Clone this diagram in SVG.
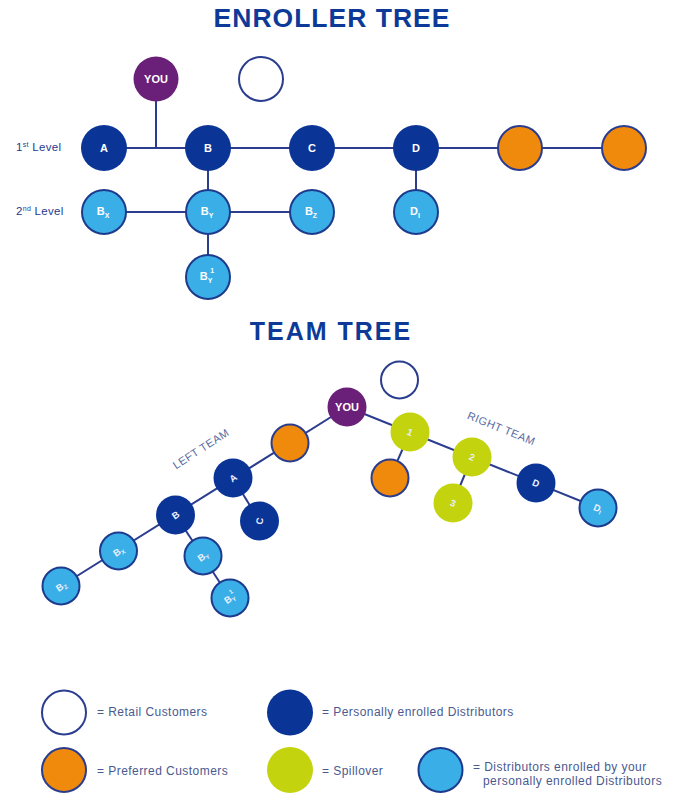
<svg xmlns="http://www.w3.org/2000/svg" width="678" height="794" viewBox="0 0 678 794">
<style>
.title{font-family:"Liberation Sans",Arial,sans-serif;font-weight:bold;fill:#0d3a98;text-anchor:middle}
.lbl{font-family:"Liberation Sans",Arial,sans-serif;font-weight:bold;fill:#ffffff;text-anchor:middle;font-size:11px}
.tl{font-family:"Liberation Sans",Arial,sans-serif;font-weight:bold;fill:#e8f0ff;text-anchor:middle;font-size:9.5px}
.lvl{font-family:"Liberation Sans",Arial,sans-serif;fill:#1f3a8f;font-size:11.5px;letter-spacing:0.3px}
.leg{font-family:"Liberation Sans",Arial,sans-serif;fill:#4a5a8f;font-size:12px;letter-spacing:0.45px}
.team{font-family:"Liberation Sans",Arial,sans-serif;fill:#5a6aa0;font-size:11px;text-anchor:middle;letter-spacing:0.5px}
.you{fill:#6a1f78}
.ret{fill:#ffffff;stroke:#2b3d8f;stroke-width:2}
.pc{fill:#f08a0c;stroke:#2b3d8f;stroke-width:2}
.pd{fill:#0a3597}
.sp{fill:#c3d30e}
.ed{fill:#3aaee6;stroke:#1d3a8c;stroke-width:2}
.ln{stroke:#2b3d8f;stroke-width:2;fill:none}
</style>

<text class="title" x="332" y="27" font-size="26.5" letter-spacing="1">ENROLLER TREE</text>

<g id="enroller-connectors">
<line class="ln" x1="104" y1="148" x2="624" y2="148"/>
<line class="ln" x1="156" y1="100" x2="156" y2="148"/>
<line class="ln" x1="208" y1="148" x2="208" y2="277"/>
<line class="ln" x1="104" y1="212" x2="312" y2="212"/>
<line class="ln" x1="416" y1="148" x2="416" y2="212"/>
</g>

<text class="lvl" x="16" y="151">1<tspan font-size="7" dy="-4">st</tspan><tspan dy="4"> Level</tspan></text>
<text class="lvl" x="16" y="215">2<tspan font-size="7" dy="-4">nd</tspan><tspan dy="4"> Level</tspan></text>

<g id="e-you"><circle class="you" cx="156" cy="79" r="22.5"/><text class="lbl" x="156" y="83">YOU</text></g>
<g id="e-retail"><circle class="ret" cx="261" cy="79" r="22"/></g>
<g id="e-a"><circle class="pd" cx="104" cy="148" r="23"/><text class="lbl" x="104" y="152">A</text></g>
<g id="e-b"><circle class="pd" cx="208" cy="148" r="23"/><text class="lbl" x="208" y="152">B</text></g>
<g id="e-c"><circle class="pd" cx="312" cy="148" r="23"/><text class="lbl" x="312" y="152">C</text></g>
<g id="e-d"><circle class="pd" cx="416" cy="148" r="23"/><text class="lbl" x="416" y="152">D</text></g>
<g id="e-pc1"><circle class="pc" cx="520" cy="148" r="22"/></g>
<g id="e-pc2"><circle class="pc" cx="624" cy="148" r="22"/></g>
<g id="e-bx"><circle class="ed" cx="104" cy="212" r="22"/><text class="lbl" x="103" y="215">B<tspan font-size="7" dy="3">X</tspan></text></g>
<g id="e-by"><circle class="ed" cx="208" cy="212" r="22"/><text class="lbl" x="207" y="215">B<tspan font-size="7" dy="3">Y</tspan></text></g>
<g id="e-bz"><circle class="ed" cx="312" cy="212" r="22"/><text class="lbl" x="311" y="215">B<tspan font-size="7" dy="3">Z</tspan></text></g>
<g id="e-d1"><circle class="ed" cx="416" cy="212" r="22"/><text class="lbl" x="415" y="215">D<tspan font-size="7" dy="3">I</tspan></text></g>
<g id="e-by1"><circle class="ed" cx="208" cy="277" r="22"/><text class="lbl" x="207" y="280">B<tspan font-size="7" dy="3">Y</tspan><tspan font-size="7" dx="-2" dy="-10">1</tspan></text></g>

<text class="title" x="331" y="340" font-size="25" letter-spacing="2">TEAM TREE</text>

<g id="team-connectors">
<line class="ln" x1="347" y1="407" x2="61" y2="586"/>
<line class="ln" x1="347" y1="407" x2="598" y2="508"/>
<line class="ln" x1="233" y1="478" x2="259.5" y2="521"/>
<line class="ln" x1="175.5" y1="515" x2="230" y2="598"/>
<line class="ln" x1="410" y1="432" x2="390" y2="478"/>
<line class="ln" x1="472" y1="457" x2="453" y2="503"/>
</g>

<text class="team" transform="translate(203,452) rotate(-33)">LEFT TEAM</text>
<text class="team" transform="translate(500,432) rotate(22)">RIGHT TEAM</text>

<g id="t-retail"><circle class="ret" cx="399.5" cy="380" r="18.5"/></g>
<g id="t-you"><circle class="you" cx="347" cy="407" r="19.5"/><text class="lbl" x="347" y="411" font-size="10">YOU</text></g>
<g id="t-pc"><circle class="pc" cx="290" cy="443" r="18.5"/></g>
<g id="t-a"><circle class="pd" cx="233" cy="478" r="19.5"/><text class="tl" transform="translate(233,478) rotate(-35)" y="3.5">A</text></g>
<g id="t-c"><circle class="pd" cx="259.5" cy="521" r="19.5"/><text class="tl" transform="translate(259.5,521) rotate(-80)" y="3.5">C</text></g>
<g id="t-b"><circle class="pd" cx="175.5" cy="515" r="19.5"/><text class="tl" transform="translate(175.5,515) rotate(-35)" y="3.5">B</text></g>
<g id="t-bx"><circle class="ed" cx="118.5" cy="551" r="18.5"/><text class="tl" transform="translate(118.5,551) rotate(-35)" y="3.5">B<tspan font-size="6" dy="2">X</tspan></text></g>
<g id="t-bz"><circle class="ed" cx="61" cy="586" r="18.5"/><text class="tl" transform="translate(61,586) rotate(-35)" y="3.5">B<tspan font-size="6" dy="2">Z</tspan></text></g>
<g id="t-by"><circle class="ed" cx="203" cy="556" r="18.5"/><text class="tl" transform="translate(203,556) rotate(-35)" y="3.5">B<tspan font-size="6" dy="2">Y</tspan></text></g>
<g id="t-by1"><circle class="ed" cx="230" cy="598" r="18.5"/><text class="tl" transform="translate(230,598) rotate(-35)" y="3.5">B<tspan font-size="6" dy="2">Y</tspan><tspan font-size="6" dx="-2" dy="-8">1</tspan></text></g>
<g id="t-1"><circle class="sp" cx="410" cy="432" r="19.5"/><text class="tl" transform="translate(410,432) rotate(22)" y="3.5">1</text></g>
<g id="t-pc2"><circle class="pc" cx="390" cy="478" r="18.5"/></g>
<g id="t-2"><circle class="sp" cx="472" cy="457" r="19.5"/><text class="tl" transform="translate(472,457) rotate(22)" y="3.5">2</text></g>
<g id="t-3"><circle class="sp" cx="453" cy="503" r="19.5"/><text class="tl" transform="translate(453,503) rotate(22)" y="3.5">3</text></g>
<g id="t-d"><circle class="pd" cx="536" cy="483" r="19.5"/><text class="tl" transform="translate(536,483) rotate(22)" y="3.5">D</text></g>
<g id="t-d1"><circle class="ed" cx="598" cy="508" r="18.5"/><text class="tl" transform="translate(598,508) rotate(22)" y="3.5">D<tspan font-size="6" dy="2">I</tspan></text></g>

<g id="legend">
<circle class="ret" cx="64" cy="712.5" r="22"/>
<text class="leg" x="97" y="716">= Retail Customers</text>
<circle class="pc" cx="64" cy="770" r="22"/>
<text class="leg" x="97" y="775">= Preferred Customers</text>
<circle class="pd" cx="290" cy="712.5" r="23"/>
<text class="leg" x="322" y="716">= Personally enrolled Distributors</text>
<circle class="sp" cx="290" cy="770" r="23"/>
<text class="leg" x="322" y="775">= Spillover</text>
<circle class="ed" cx="440.5" cy="770" r="22"/>
<text class="leg" x="473" y="771">= Distributors enrolled by your</text>
<text class="leg" x="483" y="785">personally enrolled Distributors</text>
</g>
</svg>
